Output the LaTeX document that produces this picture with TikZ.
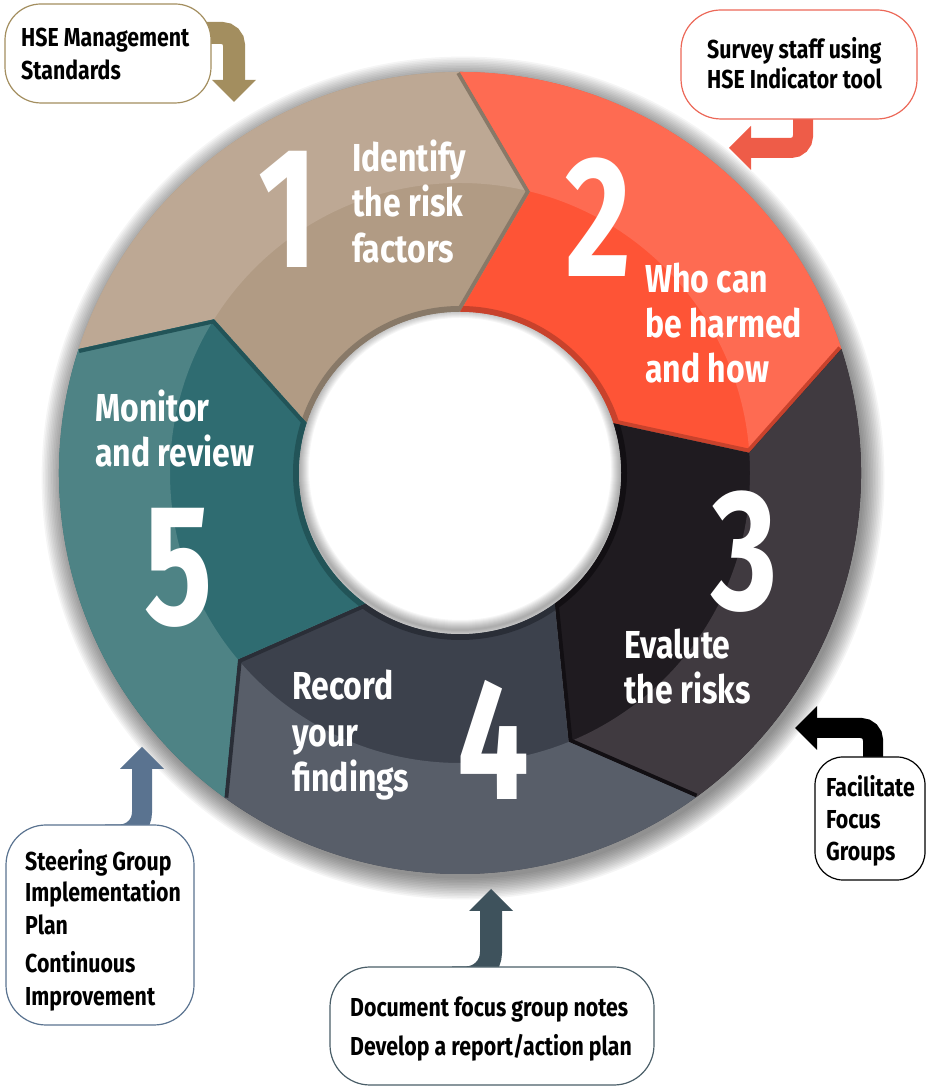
\documentclass[tikz,border=0pt]{standalone}
\usepackage{fontspec}
\setmainfont{Fira Sans}[FakeStretch=0.82]
\newfontfamily\digitfont{Fira Sans}[FakeStretch=0.74]
\usetikzlibrary{arrows.meta}

% ring colours: light outer band, dark inner band, edge
\definecolor{tanA}{RGB}{189,168,148}
\definecolor{tanB}{RGB}{177,155,132}
\definecolor{tanE}{RGB}{136,121,104}
\definecolor{redA}{RGB}{254,107,82}
\definecolor{redB}{RGB}{254,84,54}
\definecolor{redE}{RGB}{200,66,44}
\definecolor{darkA}{RGB}{64,58,64}
\definecolor{darkB}{RGB}{31,27,32}
\definecolor{darkE}{RGB}{18,15,19}
\definecolor{greyA}{RGB}{88,94,105}
\definecolor{greyB}{RGB}{60,65,76}
\definecolor{greyE}{RGB}{42,46,55}
\definecolor{tealA}{RGB}{78,131,133}
\definecolor{tealB}{RGB}{47,108,113}
\definecolor{tealE}{RGB}{34,84,88}
% callout colours
\definecolor{olive}{RGB}{163,142,95}
\definecolor{coral}{RGB}{238,92,72}
\definecolor{coralline}{RGB}{236,104,88}
\definecolor{slate}{RGB}{62,82,92}
\definecolor{slateline}{RGB}{74,94,104}
\definecolor{steel}{RGB}{90,115,144}

\pgfdeclarelayer{front}
\pgfsetlayers{main,front}

\tikzset{
  steptext/.style={text=white, inner sep=0pt, anchor=base west,
    font=\bfseries\fontsize{39}{45}\selectfont},
  stepnum/.style={text=white, inner sep=0pt, anchor=base,
    font=\digitfont\bfseries\fontsize{172}{172}\selectfont},
  notetext/.style={text=black, inner sep=0pt, anchor=base west,
    font=\bfseries\fontsize{26}{30}\selectfont},
  notebox/.style={fill=white, line width=1.2pt, inner sep=0pt, rounded corners=#1},
  bentarrow/.style={line width=22pt,
    -{Triangle[length=22pt, width=44pt, line width=0pt]}},
}

% one chevron piece of the ring: #1 start angle, #2 outer band, #3 inner band, #4 edge
\newcommand\ringpiece[4]{%
  \pgfmathsetmacro\eA{#1-72}%
  \pgfmathsetmacro\tA{#1-86}%
  \pgfmathsetmacro\nA{#1-14}%
  \begin{scope}
    \clip (#1:401) arc[start angle=#1, end angle=\eA, radius=401]
      -- (\tA:290) -- (\eA:161) arc[start angle=\eA, end angle=#1, radius=161]
      -- (\nA:290) -- cycle;
    \fill[#3] (0,0) circle[radius=405];
    \fill[#2, even odd rule] (0,0) circle[radius=405] circle[radius=290];
    \draw[#4, line width=8pt] (\eA:161) -- (\tA:290) -- (\eA:401);
    \draw[#4, line width=12pt] (0,0) circle[radius=161];
  \end{scope}}

\begin{document}
\begin{tikzpicture}[x=1pt, y=1pt]
\useasboundingbox (0,0) rectangle (928,1086);

% ---------------- the ring ----------------
\begin{scope}[shift={(460,613)}]
  \coordinate (hub) at (0,0);
  \foreach \k in {1,...,14}
    \fill[black, opacity=0.04] (3,-5) circle[radius=399+1.6*\k];
  \ringpiece{162}{tanA}{tanB}{tanE}
  \ringpiece{90}{redA}{redB}{redE}
  \ringpiece{18}{darkA}{darkB}{darkE}
  \ringpiece{-54}{greyA}{greyB}{greyE}
  \ringpiece{-126}{tealA}{tealB}{tealE}
  \fill[white] (hub) circle[radius=161];
  \begin{scope}
    \clip (hub) circle[radius=161];
    \foreach \k in {1,...,10}
      \draw[black, opacity=0.035, line width=2*\k] (0,4) circle[radius=161];
  \end{scope}
\end{scope}

% ---------------- step labels ----------------
\node[stepnum] (n1) at (288,818) {1};
\node[steptext] (s1a) at (352,914) {Identify};
\node[steptext] (s1b) at (352,869) {the risk};
\node[steptext] (s1c) at (352,823) {factors};

\node[stepnum] (n2) at (598,809) {2};
\node[steptext] (s2a) at (645,793) {Who can};
\node[steptext] (s2b) at (645,748) {be harmed};
\node[steptext] (s2c) at (645,703) {and how};

\node[stepnum] (n3) at (745,476) {3};
\node[steptext] (s3a) at (624,427) {Evalute};
\node[steptext] (s3b) at (624,382) {the risks};

\node[stepnum] (n4) at (493,286) {4};
\node[steptext] (s4a) at (292,386) {Record};
\node[steptext] (s4b) at (292,339) {your};
\node[steptext] (s4c) at (292,294) {findings};

\node[stepnum] (n5) at (179,461) {5};
\node[steptext] (s5a) at (95,664) {Monitor};
\node[steptext] (s5b) at (95,619) {and review};

% ---------------- callout boxes ----------------
\begin{pgfonlayer}{front}
  \node[notebox=36pt, draw=olive, minimum width=206pt, minimum height=99pt] (hse) at (108,1032.5) {};
  \node[notebox=40pt, draw=coralline, minimum width=236pt, minimum height=109pt] (survey) at (799,1021.5) {};
  \node[notebox=28pt, draw=black, minimum width=110pt, minimum height=123pt] (focus) at (870,267.5) {};
  \node[notebox=40pt, draw=slateline, minimum width=324pt, minimum height=118pt] (doc) at (492,60) {};
  \node[notebox=40pt, draw=steel, minimum width=188pt, minimum height=200pt] (steer) at (100,161) {};

  \node[notetext] (hse1) at (21,1039) {HSE Management};
  \node[notetext] (hse2) at (21,1006) {Standards};
  \node[notetext] (sur1) at (707,1027) {Survey staff using};
  \node[notetext] (sur2) at (707,997) {HSE Indicator tool};
  \node[notetext] (foc1) at (826,289) {Facilitate};
  \node[notetext] (foc2) at (826,257) {Focus};
  \node[notetext] (foc3) at (826,225) {Groups};
  \node[notetext] (doc1) at (350,69) {Document focus group notes};
  \node[notetext] (doc2) at (350,30) {Develop a report/action plan};
  \node[notetext] (ste1) at (25,215) {Steering Group};
  \node[notetext] (ste2) at (25,184) {Implementation};
  \node[notetext] (ste3) at (25,151) {Plan};
  \node[notetext] (ste4) at (25,113) {Continuous};
  \node[notetext] (ste5) at (25,80) {Improvement};
\end{pgfonlayer}

% ---------------- callout arrows ----------------
\coordinate (olivetip) at (234,984);
\coordinate (coraltip) at (729,938);
\coordinate (blacktip) at (795,358);
\coordinate (slatetip) at (491,197);
\coordinate (steeltip) at (142,339);

\draw[bentarrow, olive, rounded corners=12pt] ([xshift=-10pt, yshift=20.5pt]hse.east) -| (olivetip);
\draw[bentarrow, coral, line width=20pt, rounded corners=12pt] ([xshift=4pt, yshift=6pt]survey.south) |- (coraltip);
\draw[bentarrow, black, line width=20pt, rounded corners=12pt] ([xshift=3pt, yshift=-6pt]focus.north) |- (blacktip);
\draw[bentarrow, slate, rounded corners=25pt] ([xshift=-40pt, yshift=-11pt]doc.north) -| (slatetip);
\draw[bentarrow, steel, line width=20pt, rounded corners=22pt] ([xshift=5pt, yshift=-10pt]steer.north) -| (steeltip);
\end{tikzpicture}
\end{document}
